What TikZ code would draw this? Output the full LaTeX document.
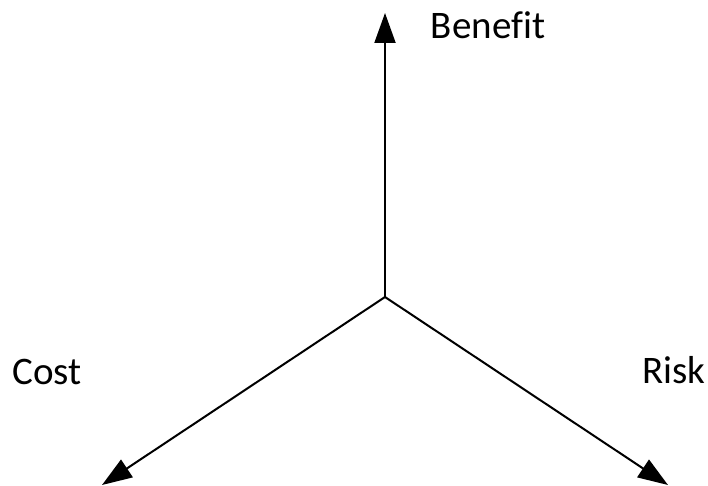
\documentclass[tikz,border=0pt]{standalone}
\usepackage{fontspec}
\setmainfont{Carlito}[Ligatures=NoCommon]
\usetikzlibrary{arrows.meta, positioning}

\begin{document}
\begin{tikzpicture}[x=1pt, y=-1pt,
		axis/.style={line width=2pt, black, -{Triangle[length=30pt, width=21pt]}},
		label/.style={font=\fontsize{39}{44}\selectfont, inner sep=0pt}
		]
		\useasboundingbox (0,0) rectangle (708,486);
		
		\coordinate (o) at (385,297);
		\coordinate (benefit) at (385,13);
		\coordinate (cost) at (102,485);
		\coordinate (risk) at (668,485);
		
		\node [label](lb) at (488,25) {Benefit};
		\node [label](lc) at (47,372) {Cost};
		\node [label](lr) at (674,370) {Risk};
		
		\draw[axis] (o) -- (benefit);
		\draw[axis] (o) -- (cost);
		\draw[axis] (o) -- (risk);
		
	\end{tikzpicture}
\end{document}
